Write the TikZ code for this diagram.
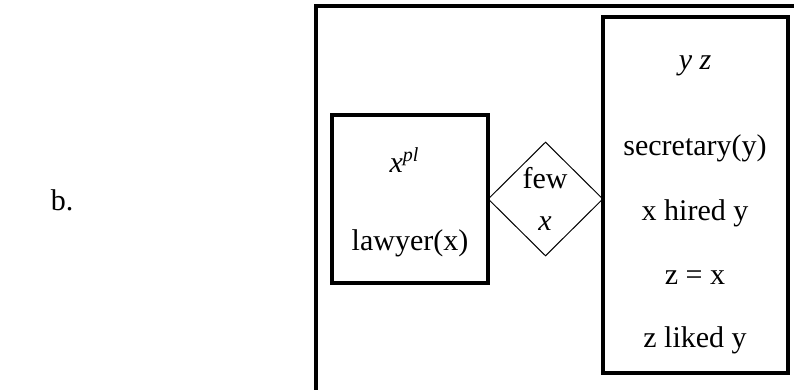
\documentclass[tikz,border=0pt]{standalone}
\usepackage{fontspec}
\setmainfont{Liberation Serif}
\usetikzlibrary{shapes.geometric}
\begin{document}
\begin{tikzpicture}[x=1pt,y=-1pt,
  txt/.style={inner sep=0pt,anchor=base,font=\fontsize{30}{35}\selectfont},
  thickbox/.style={draw,line width=3.2pt,inner sep=0pt},
  thinline/.style={draw,line width=1pt}]
\useasboundingbox (0,0) rectangle (794,390);
% outer box (partly outside the picture)
\coordinate (ob) at (316,392);
\coordinate (oc) at (316,6);
\coordinate (oe) at (796,6);
\draw[line width=3.2pt] (ob) -- (oc) -- (oe);
% left box
\node[thickbox,minimum width=156pt,minimum height=168pt] (lbox) at (410,199) {};
% right box
\node[thickbox,minimum width=185pt,minimum height=356pt] (rbox) at (695.5,195) {};
% diamond
\node[thinline,shape=diamond,inner sep=0pt,minimum width=115pt,minimum height=114pt] (dia) at (545.5,199) {};
% texts
\node[txt] (b) at (62,210) {b.};
\node[txt] (xpl) at (404,172) {\textit{x}\raisebox{10pt}{\fontsize{20}{24}\selectfont\textit{pl}}};
\node[txt] (law) at (410,250) {lawyer(x)};
\node[txt] (few) at (545,188) {few};
\node[txt] (dx) at (545,230) {\textit{x}};
\node[txt] (yz) at (695,70) {\textit{y z}};
\node[txt] (sec) at (695,156) {secretary(y)};
\node[txt] (hired) at (695,220) {x hired y};
\node[txt] (zx) at (695,284) {z = x};
\node[txt] (liked) at (695,347) {z liked y};
\end{tikzpicture}
\end{document}
